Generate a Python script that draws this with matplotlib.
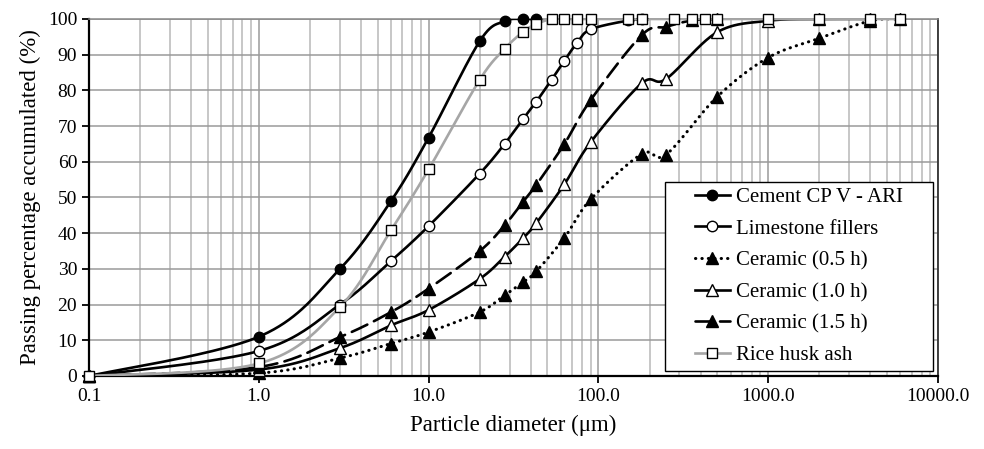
import numpy as np
import matplotlib
matplotlib.use("Agg")
import matplotlib.pyplot as plt
from matplotlib.lines import Line2D
from matplotlib.patches import Rectangle
from matplotlib.ticker import FixedLocator, NullFormatter

plt.rcParams['font.family'] = ['Liberation Serif', 'DejaVu Serif']

# Data
cement_x = [0.1, 1, 3, 6, 10, 20, 28, 36, 43]
cement_y = [0, 11, 30, 49, 66.8, 93.8, 99.4, 100, 100]

limestone_x = [0.1, 1, 3, 6, 10, 20, 28, 36, 43, 53, 63, 75, 90, 150, 180]
limestone_y = [0, 7, 20, 32.2, 42, 56.7, 65, 72, 76.8, 83, 88.3, 93.4, 97.1, 99.6, 100]

ceramic05_x = [0.1, 1, 3, 6, 10, 20, 28, 36, 43, 63, 90, 180, 250, 500, 1000, 2000, 4000, 6000]
ceramic05_y = [0, 0.8, 5, 9.1, 12.3, 17.9, 22.6, 26.3, 29.3, 38.7, 49.5, 62.2, 62, 78.2, 89.2, 94.6, 99.5, 100]

ceramic10_x = [0.1, 1, 3, 6, 10, 20, 28, 36, 43, 63, 90, 180, 250, 500, 1000, 2000, 4000]
ceramic10_y = [0, 1.8, 7.8, 14.2, 18.5, 27.2, 33.4, 38.6, 42.8, 53.7, 65.5, 82, 83.2, 96.3, 99.5, 100, 100]

ceramic15_x = [0.1, 1, 3, 6, 10, 20, 28, 36, 43, 63, 90, 180, 250, 355, 500]
ceramic15_y = [0, 2.5, 10.9, 17.9, 24.5, 35, 42.2, 48.8, 53.5, 65, 77.3, 95.5, 97.8, 99.6, 100]

rha_x = [0.1, 1, 3, 6, 10, 20, 28, 36, 43, 53, 63, 75, 90, 150, 180, 280, 355, 425, 500, 1000, 2000, 4000, 6000]
rha_y = [0, 3.5, 19.3, 40.8, 57.9, 83, 91.6, 96.4, 98.6, 100, 100, 100, 100, 100, 100, 100, 100, 100, 100, 100, 100, 100, 100]

x_ticks = [0.1, 1, 10, 100, 1000, 10000]
x_tick_labels = ["0.1", "1.0", "10.0", "100.0", "1000.0", "10000.0"]
y_ticks = list(range(0, 101, 10))


def smooth(xs, ys, n=40):
    # Excel-style smoothed line (Bezier through points), computed in screen-like space
    sx, sy = 170.0, 3.567
    pts = np.column_stack([np.log10(xs) * sx, np.asarray(ys, float) * sy])
    segs = []
    for i in range(len(pts) - 1):
        p0 = pts[i - 1] if i > 0 else pts[i]
        p1, p2 = pts[i], pts[i + 1]
        p3 = pts[i + 2] if i + 2 < len(pts) else pts[i + 1]
        c1 = p1 + (p2 - p0) / 6
        c2 = p2 - (p3 - p1) / 6
        t = np.linspace(0, 1, n)[:, None]
        seg = (1 - t) ** 3 * p1 + 3 * (1 - t) ** 2 * t * c1 + 3 * (1 - t) * t ** 2 * c2 + t ** 3 * p2
        segs.append(seg if i == 0 else seg[1:])
    s = np.vstack(segs)
    return 10 ** (s[:, 0] / sx), s[:, 1] / sy


fig = plt.figure(figsize=(9.84, 4.49), dpi=100)
ax = fig.add_axes([0.0905, 0.1626, 0.8628, 0.7951])

ax.set_xscale('log')
ax.set_xlim(0.1, 10000)
ax.set_ylim(0, 100)

dotted = (0, (0.1, 2.0))
dashed = (0, (6.5, 2.8))
series = [
    ("Cement CP V - ARI", cement_x, cement_y, 'black', '-', 'o', 'black', 7.5, 1.9),
    ("Limestone fillers", limestone_x, limestone_y, 'black', '-', 'o', 'white', 7.5, 1.9),
    ("Ceramic (0.5 h)", ceramic05_x, ceramic05_y, 'black', dotted, '^', 'black', 8, 2.2),
    ("Ceramic (1.0 h)", ceramic10_x, ceramic10_y, 'black', '-', '^', 'white', 8, 1.9),
    ("Ceramic (1.5 h)", ceramic15_x, ceramic15_y, 'black', dashed, '^', 'black', 8, 1.9),
    ("Rice husk ash", rha_x, rha_y, '#a6a6a6', '-', 's', 'white', 7.5, 1.9),
]

handles = []
for i, (label, xs, ys, lc, ls, mk, mfc, ms, lw) in enumerate(series):
    sxs, sys_ = smooth(xs, ys)
    ax.plot(sxs, sys_, color=lc, linestyle=ls, lw=lw, zorder=3 + i,
            dash_capstyle='round')
    ax.plot(xs, ys, linestyle='none', marker=mk, ms=ms, mfc=mfc, mec='black',
            mew=1.0, zorder=3 + i, clip_on=False)
    handles.append(Line2D([], [], color=lc, linestyle=ls, lw=lw, marker=mk, ms=ms,
                          mfc=mfc, mec='black', mew=1.0, label=label,
                          dash_capstyle='round'))

ax.xaxis.set_major_locator(FixedLocator(x_ticks))
ax.set_xticklabels(x_tick_labels)
minor = [m * 10.0 ** e for e in range(-1, 4) for m in range(2, 10)]
ax.xaxis.set_minor_locator(FixedLocator(minor))
ax.xaxis.set_minor_formatter(NullFormatter())
ax.set_yticks(y_ticks)

ax.grid(True, which='major', color='#9a9a9a', lw=1.1)
ax.grid(True, which='minor', axis='x', color='#b8b8b8', lw=1.1)
ax.set_axisbelow(True)

ax.tick_params(axis='both', which='major', direction='out', length=5, width=1.3,
               labelsize=14, colors='black')
ax.tick_params(axis='x', which='minor', length=0)
for side in ['left', 'bottom']:
    ax.spines[side].set_linewidth(1.6)
ax.spines['top'].set_color('#888888')
ax.spines['top'].set_linewidth(1.1)
ax.spines['right'].set_color('#333333')
ax.spines['right'].set_linewidth(1.3)

ax.set_xlabel("Particle diameter (\u03bcm)", fontsize=16.5, labelpad=7)
ax.set_ylabel("Passing percentage accumulated (%)", fontsize=16.5, labelpad=5)

# legend box drawn separately so the entries sit centred in it
box_x0, box_x1, box_y0, box_y1 = 0.6784, 0.9941, 0.014, 0.5434
ax.add_patch(Rectangle((box_x0, box_y0), box_x1 - box_x0, box_y1 - box_y0,
                       transform=ax.transAxes, facecolor='white', edgecolor='black',
                       lw=1.0, zorder=15, clip_on=False))
leg = ax.legend(handles=handles, loc='center',
                bbox_to_anchor=((box_x0 + box_x1) / 2, (box_y0 + box_y1) / 2),
                fontsize=15, frameon=False, handlelength=1.7, labelspacing=0.58,
                borderpad=0.2, handletextpad=0.3)
leg.set_zorder(20)

fig.savefig("out.png", dpi=100)
